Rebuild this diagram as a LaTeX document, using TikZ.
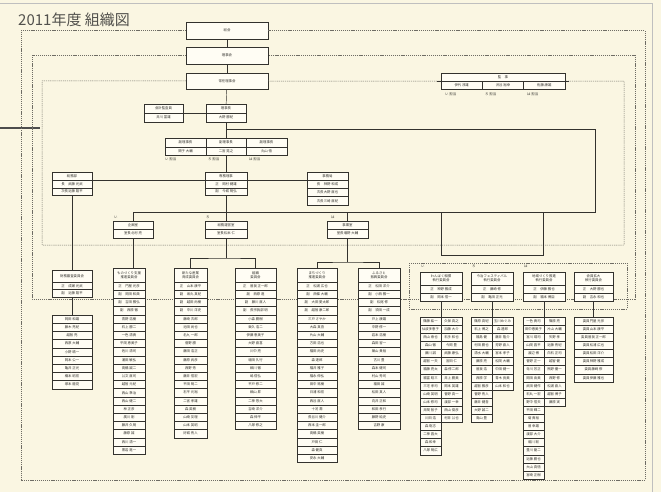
\documentclass[tikz,border=0pt]{standalone}
\usepackage{fontspec}
\newfontfamily\cjk{Noto Sans CJK JP}
\usetikzlibrary{positioning}

\definecolor{paper}{HTML}{FAF6E2}
\definecolor{cell}{HTML}{FFFDF4}
\definecolor{ink}{HTML}{33322E}
\definecolor{rule}{HTML}{6E6C64}

% role in front of a name
\newcommand{\rl}[2]{\makebox[7pt][l]{#1}#2}
% a column of cells: [row height]{name}{x}{top y}{width}{entries}
\newcommand{\roster}[6][8.2]{%
  \foreach \who [count=\k] in {#6}
    \node[box, minimum width=#5pt, minimum height=#1pt] (#2-\k) at (#3,{#4+(\k-0.5)*#1}) {\who};%
}

\begin{document}
\begin{tikzpicture}[x=1pt, y=-1pt,
    box/.style={draw=ink, fill=cell, line width=0.4pt, inner sep=0pt, text=ink,
      font=\cjk\fontsize{3.4}{4}\selectfont},
    frame/.style={draw=rule, line width=0.5pt, dash pattern=on 1.2pt off 0.9pt},
    link/.style={draw=ink, line width=0.45pt},
    tag/.style={inner sep=0pt, anchor=west, text=ink, font=\cjk\fontsize{3.4}{4}\selectfont}]
    \useasboundingbox (0,0) rectangle (661,492);
    \fill[paper] (0,0) rectangle (661,492);
    \draw[black!25, line width=0.6pt] (0,3) -- (652,3) -- (652,492);
    \draw[black!70, line width=2pt] (0,128) -- (40,128);

    \node[anchor=west, inner sep=0pt, text=ink!85, font=\cjk\fontsize{15}{18}\selectfont] (title) at (18,20) {2011年度 組織図};

    % top of the chart
    \node[box, minimum width=82pt, minimum height=17pt] (sokai) at (227,30.5) {総会};
    \node[box, minimum width=82pt, minimum height=17pt] (rijikai) at (227,55.5) {理事会};
    \node[box, minimum width=82pt, minimum height=16pt] (jonin) at (227,81) {常任理事会};

    \node[box, minimum width=124pt, minimum height=8pt] (kanji-h) at (503,77) {監\quad 事};
    \node[box, minimum width=41.3pt, minimum height=8pt] (kanji-1) at (461.7,85) {伊代 淳雄};
    \node[box, minimum width=41.3pt, minimum height=8pt] (kanji-2) at (503,85) {渋谷 裕幸};
    \node[box, minimum width=41.3pt, minimum height=8pt] (kanji-3) at (544.3,85) {佐藤 康雄};
    \node[tag] (kt1) at (445,94) {い 担当};
    \node[tag] (kt2) at (485,94) {ろ 担当};
    \node[tag] (kt3) at (527,94) {は 担当};

    % frames
    \draw[frame] (sokai.west) -| (21,480) -| (645,30.5) -- (sokai.east);
    \draw[frame] (rijikai.west) -| (32,299) -| (635,55.5) -- (rijikai.east);
    \draw[frame] (jonin.west) -| (42,245) -| (624,81) -- (kanji-h.south east);
    \draw[frame] (jonin.east) -- (kanji-h.south west);
    \draw[frame] (409,263) rectangle (627,309);
    \draw[ink, line width=0.8pt] ([xshift=-4pt]kanji-h.south west) -- ([xshift=4pt]kanji-h.south east);

    \node[box, minimum width=39pt, minimum height=9pt] (kaikei-h) at (163.5,108.5) {会計監査員};
    \node[box, minimum width=39pt, minimum height=9pt] (kaikei-n) at (163.5,117.5) {井川 富雄};
    \node[box, minimum width=40pt, minimum height=9pt] (rijicho-h) at (226,108.5) {理事長};
    \node[box, minimum width=40pt, minimum height=9pt] (rijicho-n) at (226,117.5) {大野 勝紀};

    \node[box, minimum width=41pt, minimum height=9pt] (fuku1-h) at (185.5,142.5) {副理事長};
    \node[box, minimum width=41pt, minimum height=8pt] (fuku1-n) at (185.5,151) {関子 大輔};
    \node[box, minimum width=40pt, minimum height=9pt] (fuku2-h) at (226,142.5) {副理事長};
    \node[box, minimum width=40pt, minimum height=8pt] (fuku2-n) at (226,151) {二宮 晃之};
    \node[box, minimum width=41pt, minimum height=9pt] (fuku3-h) at (266.5,142.5) {副理事長};
    \node[box, minimum width=41pt, minimum height=8pt] (fuku3-n) at (266.5,151) {丸山 悟};
    \node[tag] (ft1) at (165,159) {い 担当};
    \node[tag] (ft2) at (208,159) {ろ 担当};
    \node[tag] (ft3) at (249,159) {は 担当};

    \node[box, minimum width=40pt, minimum height=8pt] (somu-h) at (72,176) {総務部};
    \roster[7.8]{somu}{72}{180}{40}{\rl{長}{武藤 光武}, \rl{次長}{近藤 翔平}}
    \node[box, minimum width=42pt, minimum height=8pt] (senmu-h) at (226,176) {専務理事};
    \roster[7.8]{senmu}{226}{180}{42}{\rl{正}{岡村 健雄}, \rl{副}{今城 明弘}}
    \node[box, minimum width=41pt, minimum height=8pt] (jimu-h) at (327.5,176) {事務局};
    \roster[8.3]{jimu}{327.5}{180}{41}{\rl{長}{神野 和成}, \rl{次長}{大野 直也}, \rl{次長}{三崎 直紀}}

    \node[box, minimum width=40pt, minimum height=8.5pt] (kikaku-h) at (133,225.2) {企画室};
    \node[box, minimum width=40pt, minimum height=8.5pt] (kikaku-n) at (133,233.7) {\rl{室長}{北村 亮}};
    \node[box, minimum width=42pt, minimum height=8.5pt] (somuun-h) at (226,225.2) {総務運営室};
    \node[box, minimum width=42pt, minimum height=8.5pt] (somuun-n) at (226,233.7) {\rl{室長}{松本 仁}};
    \node[box, minimum width=41pt, minimum height=8.5pt] (jigyo-h) at (347.5,225.2) {事業室};
    \node[box, minimum width=41pt, minimum height=8.5pt] (jigyo-n) at (347.5,233.7) {\rl{室長}{増野 大輔}};
    \node[tag] (st1) at (114,217) {い};
    \node[tag] (st2) at (206,217) {ろ};
    \node[tag] (st3) at (331,217) {は};

    % committees
    \node[box, minimum width=40pt, minimum height=12pt] (A-h) at (72,276) {財務審査委員会};
    \roster[7.6]{A}{72}{282}{40}{\rl{正}{成瀬 光武}, \rl{副}{近藤 翔平}}
    \roster{AL}{72}{315}{40}{岡田 和雄, 藤木 亮紀, 越智 亮, 西原 大輔, 小野 晴一, 岡本 公一, 亀井 正光, 橋本 昭宏, 塚本 龍見}

    \node[box, minimum width=32pt, minimum height=14pt, align=center] (B-h) at (129,275) {ものづくり支援\\推進委員会};
    \roster{B}{129}{282}{32}{\rl{正}{門屋 光彦}, \rl{副}{岡田 和典}, \rl{副}{吉田 雅弘}, \rl{副}{西原 徹}, 青野 浩樹, 石上 勝二, 一色 清貴, 平岡 恵美子, 佐川 清司, 浦田 敏弘, 高橋 誠二, 公文 直司, 越智 元紀, 西山 準治, 西山 健二, 林 正彦, 廣川 剛, 藤井 久明, 藤原 誠, 西川 清一, 黒岩 進一}

    \node[box, minimum width=33pt, minimum height=14pt, align=center] (C-h) at (190.5,275) {新たな産業\\育成委員会};
    \roster{C}{190.5}{282}{33}{\rl{正}{山本 康平}, \rl{副}{坂丸 真紀}, \rl{副}{越田 尚樹}, \rl{副}{中川 洋史}, 藤崎 次郎, 池田 尚也, 名九 一郎, 菅野 勝, 藤田 浩正, 藤原 武彦, 西野 秀, 藤井 信宏, 平田 明二, 右平 元裕, 二宮 孝雄, 森 英樹, 山崎 友理, 山本 英昭, 好城 秀人}

    \node[box, minimum width=41pt, minimum height=14pt, align=center] (D-h) at (255.5,275) {組織\\委員会};
    \roster{D}{255.5}{282}{41}{\rl{正}{曽我 正一郎}, \rl{副}{西原 進}, \rl{副}{藤川 直人}, \rl{副}{長宗我部 明}, 小森 勝樹, 東久 浩二, 伊藤 恵美子, 大野 直喜, 川中 亮, 増田 久行, 細川 徹, 嶋 信弘, 平戸 修二, 細山 昇, 二神 悠大, 吉崎 洋介, 森 伸平, 八塚 修之}

    \node[box, minimum width=40pt, minimum height=14pt, align=center] (E-h) at (317,275) {まちづくり\\推進委員会};
    \roster{E}{317}{282}{40}{\rl{正}{松浦 広也}, \rl{副}{西條 大輔}, \rl{副}{大田 愛太郎}, \rl{副}{越智 康二郎}, 三戸 さやか, 大森 真吾, 片山 大輔, 方田 浩也, 福田 尚史, 森 達郎, 福井 雅子, 福永 伸弘, 田中 祐樹, 日浦 和宏, 西谷 直人, 十河 潤, 長谷川 健介, 西本 圭一郎, 高橋 英樹, 戸田 仁, 森 健真, 安永 大輔}

    \node[box, minimum width=42pt, minimum height=14pt, align=center] (F-h) at (379,275) {ふるさと\\振興委員会};
    \roster{F}{379}{282}{42}{\rl{正}{松田 洋介}, \rl{副}{小西 雅一}, \rl{副}{松尾 修}, \rl{副}{須田 一成}, 戸上 康雄, 中野 修一, 岩本 浩樹, 森田 習一, 葉山 貴裕, 古川 豊, 森本 健司, 村山 秀司, 福田 誠, 松田 真人, 向井 正和, 和田 孝行, 藤野 純史, 吉野 康}

    % executive committees
    \node[box, minimum width=42pt, minimum height=13pt, align=center] (G-h) at (441,278.5) {わんぱく相撲\\執行委員会};
    \roster[8]{G}{441}{285}{42}{\rl{正}{神野 雅成}, \rl{副}{岡本 信一}}
    \node[box, minimum width=42pt, minimum height=13pt, align=center] (H-h) at (492,278.5) {今治フェスティバル\\執行委員会};
    \roster[8]{H}{492}{285}{42}{\rl{正}{藤崎 修}, \rl{副}{亀田 正光}}
    \node[box, minimum width=42pt, minimum height=13pt, align=center] (I-h) at (544,278.5) {地域づくり推進\\執行委員会};
    \roster[8]{I}{544}{285}{42}{\rl{正}{伊藤 雅也}, \rl{副}{福本 博臣}}
    \node[box, minimum width=39pt, minimum height=13pt, align=center] (J-h) at (593.5,278.5) {会員拡大\\執行委員会};
    \roster[8]{J}{593.5}{285}{39}{\rl{正}{大野 勝也}, \rl{副}{吉永 和也}}
    \node[tag] (gt1) at (421,266.5) {い};
    \node[tag] (gt2) at (472,266.5) {ろ};
    \node[tag] (gt3) at (524,266.5) {は};

    \roster[8.1]{GL}{430.5}{317}{21}{篠藤 紘一, 仙波多恵子, 西山 泰也, 森山 徹, 藤川 誠, 越智 一夫, 福藤 亮太, 福富 昭三, 三宅 孝司, 山崎 英明, 山本 修司, 井関 智子, 川田 浩, 森 聡志, 二神 昌大, 森 和幸, 八塚 明広}
    \roster[8.1]{GR}{451.5}{317}{21}{久保 真之, 加藤 大介, 石手 和也, 今岡 豊, 武藤 康弘, 宮田 仁, 森 修二郎, 井上 勝美, 岡本 英雄, 菅野 真一, 渡部 一幸, 西山 俊彦, 村井 公也}
    \roster[8.1]{HL}{481.5}{317}{21}{篠原 真紀, 石上 博之, 福島 健, 村田 勝也, 清水 大輔, 藤原 亮, 曽我 浩, 西原 学, 越智 雅彦, 菅野 秀人, 藤井 健吾, 大野 誠二, 高山 豊}
    \roster[8.1]{HR}{502.5}{317}{21}{玉川めぐみ, 森 達郎, 藤井 隆介, 芳野 直人, 宮本 孝子, 松岡 大輔, 中田 健一, 青木 良美, 山本 和也}
    \roster[8.1]{IL}{533.5}{317}{21}{一色 貴司, 田中恵美子, 宮川 靖司, 山岡 昌平, 渡辺 博, 菅野 正一, 寺川 芳正, 岡田 由美, 武田 健作, 石丸 一宏, 野中 信夫, 平田 輝二, 菊 貴裕, 曽 幸雄, 渡部 大介, 堀川 聡, 豊川 龍二, 近藤 勝也, 大山 真悟, 宮崎 正樹}
    \roster[8.1]{IR}{554.5}{317}{21}{篠原 亮, 片山 大輔, 矢野 孝, 近藤 秀紀, 白石 正司, 越智 健, 熊野 優一, 西野 修, 松浦 直人, 越智 博子, 藤原 実}
    \roster[8.1]{JL}{593.5}{317}{39}{\rl{委員}{門屋 光彦}, \rl{委員}{山本 康平}, \rl{委員}{曽我 正一郎}, \rl{委員}{松浦 広也}, \rl{委員}{松田 洋介}, \rl{委員}{神野 雅成}, \rl{委員}{藤崎 修}, \rl{委員}{伊藤 雅也}}

    % junctions
    \coordinate (b1) at (226,129);
    \coordinate (b2) at (595,129);
    \coordinate (b3) at (595,212);
    \coordinate (b4) at (133,212);
    \coordinate (c1) at (226,258);
    \coordinate (e1) at (347.5,262);
    \coordinate (g1) at (441,212);
    \coordinate (g2) at (543,212);
    \coordinate (g3) at (441,255);
    \coordinate (g4) at (543,255);

    % connectors
    \draw[link] (sokai) -- (rijikai);
    \draw[link] (rijikai) -- (jonin);
    \draw[link] (jonin) -- (rijicho-h);
    \draw[link] (kaikei-h.south east) -- (rijicho-h.south west);
    \draw[link] (rijicho-n) -- (fuku2-h);
    \draw[link] (fuku2-n) -- (senmu-h);
    \draw[link] (b1) -- (b2) -- (b3) -- (b4);
    \draw[link] (somu-h.south east) -- (senmu-h.south west);
    \draw[link] (senmu-h.south east) -- (jimu-h.south west);
    \draw[link] (b4) -- (kikaku-h);
    \draw[link] (senmu-2) -- (somuun-h);
    \draw[link] (jigyo-h.north |- b4) -- (jigyo-h);
    \draw[link] (somu-2) -- (A-h);
    \draw[link] (kikaku-n.south) -- (kikaku-n.south |- B-h.north);
    \draw[link] (somuun-n) -- (c1);
    \draw[link] (C-h.north) |- (c1) -| (D-h.north);
    \draw[link] (jigyo-n) -- (e1);
    \draw[link] (E-h.north) |- (e1) -| (F-h.north);
    \draw[link] (g1) -- (g3) -- (g4) -- (g2);
    \draw[link] (A-2) -- (AL-1);
    \draw[link] (G-2.south) -- (G-2.south |- GL-1.north);
    \draw[link] (H-2.south) -- (H-2.south |- HL-1.north);
    \draw[link] (I-2.south) -- (I-2.south |- IL-1.north);
    \draw[link] (J-2) -- (JL-1);
\end{tikzpicture}
\end{document}
